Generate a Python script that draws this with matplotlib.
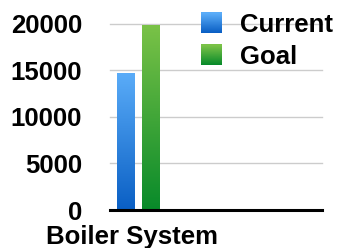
import numpy as np
import matplotlib
matplotlib.use("Agg")
import matplotlib.pyplot as plt
from matplotlib.colors import LinearSegmentedColormap
from matplotlib.patches import Rectangle
from matplotlib.legend_handler import HandlerBase

# Data
categories = ["Boiler System"]
series_names = ["Current", "Goal"]
current = [14650]
goal = [19800]
yticks = [0, 5000, 10000, 15000, 20000]

# gradient colours (top, bottom)
grads = [("#5aacf8", "#0a5fc4"), ("#7ac247", "#088a2a")]

plt.rcParams["font.family"] = ["Liberation Sans", "DejaVu Sans"]
plt.rcParams["font.weight"] = "bold"

fig = plt.figure(figsize=(3.39, 2.48), dpi=100)
ax = fig.add_axes([110 / 339, 1 - 210 / 248, 212 / 339, (210 - 23.5) / 248])

x = np.arange(len(categories))
w = 0.18
gap = 0.07
offsets = [-(w + gap) / 2, (w + gap) / 2]

for vals, off, (top, bot), name in zip([current, goal], offsets, grads, series_names):
    bars = ax.bar(x + off, vals, w, color="none", edgecolor="none", label=name, zorder=2)
    cmap = LinearSegmentedColormap.from_list(name, [bot, top])
    for b in bars:
        x0, y0 = b.get_x(), b.get_y()
        grad = np.linspace(0, 1, 256).reshape(-1, 1)
        im = ax.imshow(grad, cmap=cmap, origin="lower", aspect="auto",
                       extent=(x0, x0 + b.get_width(), y0, y0 + b.get_height()),
                       zorder=2)
        im.set_clip_path(b)

ax.set_xlim(-0.285, 1.835)
ax.set_ylim(0, 20000)

# gridlines
for yv in yticks[1:]:
    ax.axhline(yv, color="#cccccc", lw=1, zorder=1, clip_on=False)
ax.axhline(0, color="black", lw=2.2, zorder=3, clip_on=False)

for s in ax.spines.values():
    s.set_visible(False)

ax.set_yticks(yticks)
ax.set_yticklabels([str(v) for v in yticks], fontsize=18.5, fontweight="bold")
ax.tick_params(axis="y", length=0, pad=20)
ax.set_xticks(x - 0.06)
ax.set_xticklabels(categories, fontsize=18.5, fontweight="bold")
ax.tick_params(axis="x", length=0, pad=11)


class GradHandler(HandlerBase):
    def __init__(self, top, bot):
        super().__init__()
        self.top, self.bot = top, bot

    def create_artists(self, legend, orig_handle, xdescent, ydescent, width, height, fontsize, trans):
        cmap = LinearSegmentedColormap.from_list("g", [self.bot, self.top])
        n = 20
        arts = []
        for i in range(n):
            r = Rectangle((-xdescent, -ydescent + height * i / n), width, height / n + 0.3,
                          facecolor=cmap(i / (n - 1)), edgecolor="none", transform=trans)
            arts.append(r)
        return arts


handles = ax.containers[:2]
leg = fig.legend(handles, series_names, loc="upper left",
                 bbox_to_anchor=(193 / 339, 1 - 5 / 248),
                 frameon=False, fontsize=18.5,
                 handlelength=0.82, handleheight=0.85, handletextpad=0.7,
                 labelspacing=0.3, borderaxespad=0, borderpad=0.3,
                 handler_map={h: GradHandler(*g) for h, g in zip(handles, grads)})
for t in leg.get_texts():
    t.set_fontweight("bold")

fig.savefig("out.png", dpi=100)
